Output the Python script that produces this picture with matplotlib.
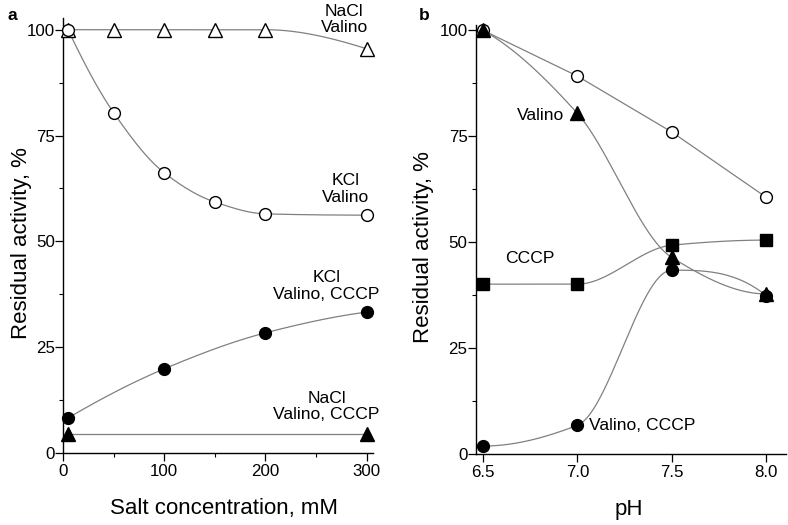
import numpy as np
import matplotlib
matplotlib.use("Agg")
import matplotlib.pyplot as plt
from matplotlib.ticker import MultipleLocator, FixedLocator

plt.rcParams["font.family"] = ["Liberation Sans", "DejaVu Sans"]

# %% Data, panel a
salt_x = [5, 50, 100, 150, 200, 300]
nacl_valino = [100, 100, 100, 100, 100, 95.5]
kcl_valino = [100, 80.4, 66.2, 59.3, 56.5, 56.2]
salt_x_kcl_cccp = [5, 100, 200, 300]
kcl_valino_cccp = [8.3, 19.9, 28.4, 33.3]
salt_x_nacl_cccp = [5, 300]
nacl_valino_cccp = [4.6, 4.6]

# %% Data, panel b
ph = [6.5, 7.0, 7.5, 8.0]
ph_no_add = [100, 89.2, 76.0, 60.6]
ph_valino = [100, 80.4, 46.4, 37.8]
ph_cccp = [40.1, 40.1, 49.3, 50.5]
ph_valino_cccp = [1.9, 6.8, 43.4, 37.4]

LINE = "#808080"
FS_TXT = 12.6
FS_TICK = 12.2
FS_LAB = 16


def _edge(h0, h1, d0, d1):
    m = ((2 * h0 + h1) * d0 - h0 * d1) / (h0 + h1)
    if np.sign(m) != np.sign(d0):
        m = 0.0
    elif np.sign(d0) != np.sign(d1) and abs(m) > abs(3 * d0):
        m = 3 * d0
    return m


def pchip(x, y, n=300):
    """monotone cubic through the points, only to draw the connecting line"""
    x = np.asarray(x, float)
    y = np.asarray(y, float)
    h = np.diff(x)
    d = np.diff(y) / h
    m = np.zeros_like(y)
    if len(x) == 2:
        m[:] = d[0]
    else:
        for k in range(1, len(x) - 1):
            if d[k - 1] * d[k] > 0:
                w1 = 2 * h[k] + h[k - 1]
                w2 = h[k] + 2 * h[k - 1]
                m[k] = (w1 + w2) / (w1 / d[k - 1] + w2 / d[k])
        m[0] = _edge(h[0], h[1], d[0], d[1])
        m[-1] = _edge(h[-1], h[-2], d[-1], d[-2])
    xs = np.linspace(x[0], x[-1], n)
    idx = np.clip(np.searchsorted(x, xs) - 1, 0, len(x) - 2)
    t = (xs - x[idx]) / h[idx]
    h00 = 2 * t**3 - 3 * t**2 + 1
    h10 = t**3 - 2 * t**2 + t
    h01 = -2 * t**3 + 3 * t**2
    h11 = t**3 - t**2
    ys = h00 * y[idx] + h10 * h[idx] * m[idx] + h01 * y[idx + 1] + h11 * h[idx] * m[idx + 1]
    return xs, ys


def series(ax, x, y, marker, filled, ms, smooth=True):
    if smooth:
        xs, ys = pchip(x, y)
    else:
        xs, ys = x, y
    ax.plot(xs, ys, color=LINE, lw=0.9, zorder=2)
    ax.plot(x, y, ls="none", marker=marker, ms=ms, mec="black", mew=1.0,
            mfc="black" if filled else "white", zorder=3, clip_on=False)


def style(ax):
    ax.spines["top"].set_visible(False)
    ax.spines["right"].set_visible(False)
    ax.spines["left"].set_linewidth(1.0)
    ax.spines["bottom"].set_linewidth(1.0)
    ax.tick_params(axis="both", which="major", direction="out", length=6,
                   width=0.9, labelsize=FS_TICK, pad=2)
    ax.tick_params(axis="both", which="minor", direction="out", length=3, width=0.8)
    ax.tick_params(axis="y", which="major", pad=0)
    ax.yaxis.set_major_locator(FixedLocator([0, 25, 50, 75, 100]))
    ax.yaxis.set_minor_locator(MultipleLocator(12.5))


fig = plt.figure(figsize=(7.88, 5.25), dpi=100)

# %% Panel a
ax1 = fig.add_axes([0.080, 0.137, 0.393, 0.829])
series(ax1, salt_x, nacl_valino, "^", False, 10.5)
series(ax1, salt_x, kcl_valino, "o", False, 8.5)
series(ax1, salt_x_kcl_cccp, kcl_valino_cccp, "o", True, 8.5)
series(ax1, salt_x_nacl_cccp, nacl_valino_cccp, "^", True, 10.5)
ax1.set_xlim(0, 306)
ax1.set_ylim(0, 102.8)
style(ax1)
ax1.xaxis.set_major_locator(FixedLocator([0, 100, 200, 300]))
ax1.xaxis.set_minor_locator(FixedLocator([50, 150, 250]))
ax1.set_xlabel("Salt concentration, mM", fontsize=FS_LAB)
ax1.set_ylabel("Residual activity, %", fontsize=FS_LAB)
ax1.xaxis.set_label_coords(0.519, -0.104)
ax1.yaxis.set_label_coords(-0.10, 0.483)

kw = dict(fontsize=FS_TXT, ha="center", va="center", linespacing=1.12)
ax1.text(278, 102.4, "NaCl\nValino", clip_on=False, **kw)
ax1.text(279, 62.4, "KCl\nValino", **kw)
ax1.text(260.5, 39.5, "KCl\nValino, CCCP", **kw)
ax1.text(260.5, 11.0, "NaCl\nValino, CCCP", **kw)

# %% Panel b
ax2 = fig.add_axes([0.604, 0.135, 0.393, 0.817])
series(ax2, ph, ph_no_add, "o", False, 8.5, smooth=False)
series(ax2, ph, ph_cccp, "s", True, 8)
series(ax2, ph, ph_valino_cccp, "o", True, 8.5)
series(ax2, ph, ph_valino, "^", True, 10.5)
ax2.set_xlim(6.463, 8.103)
ax2.set_ylim(0, 101.2)
style(ax2)
ax2.xaxis.set_major_locator(FixedLocator([6.5, 7.0, 7.5, 8.0]))
ax2.set_xticklabels(["6.5", "7.0", "7.5", "8.0"])
ax2.set_xlabel("pH", fontsize=FS_LAB)
ax2.set_ylabel("Residual activity, %", fontsize=FS_LAB)
ax2.xaxis.set_label_coords(0.494, -0.104)
ax2.yaxis.set_label_coords(-0.135, 0.483)

ax2.text(6.929, 80.0, "Valino", fontsize=FS_TXT, ha="right", va="center")
ax2.text(6.749, 46.2, "CCCP", fontsize=FS_TXT, ha="center", va="center")
ax2.text(7.061, 6.8, "Valino, CCCP", fontsize=FS_TXT, ha="left", va="center")

fig.text(12 / 788, 1 - 15 / 525, "a", fontsize=12.5, fontweight="bold", ha="center", va="center")
fig.text(424 / 788, 1 - 15 / 525, "b", fontsize=12.5, fontweight="bold", ha="center", va="center")

plt.savefig("out.png", dpi=100)
